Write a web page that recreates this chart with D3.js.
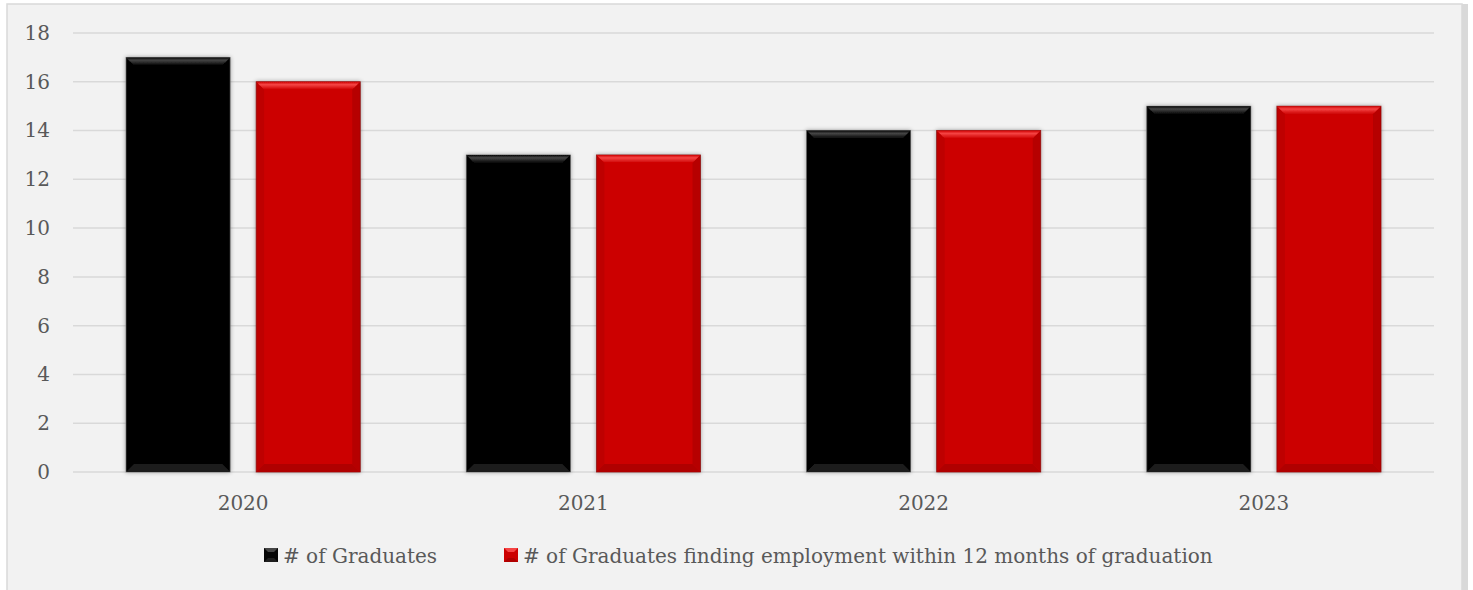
<!DOCTYPE html>
<html>
<head>
<meta charset="utf-8">
<script src="https://cdn.jsdelivr.net/npm/d3@7"></script>
<style>
  html, body { margin: 0; padding: 0; background: #ffffff; }
  svg { display: block; }
</style>
</head>
<body>
<svg id="chart" width="1473" height="590"></svg>
<script>
// ---- data ----
const categories = ["2020", "2021", "2022", "2023"];
const seriesNames = ["# of Graduates", "# of Graduates finding employment within 12 months of graduation"];
const graduates = [17, 13, 14, 15];
const employed = [16, 13, 14, 15];
const yTicks = [0, 2, 4, 6, 8, 10, 12, 14, 16, 18];

const seriesValues = [graduates, employed];
const palette = [
  { main: "#050505", top: "#454545", side: "#000000", bottom: "#1e1e1e", edge: "#7a7a7a" },
  { main: "#cc0000", top: "#f54444", side: "#a00000", bottom: "#b00000", edge: "#8a2020" }
];
const FONT = "'DejaVu Serif', 'Liberation Serif', serif";
const FS = 20;

const svg = d3.select("#chart");

// frame
svg.append("rect").attr("x", 1462).attr("y", 4).attr("width", 6).attr("height", 586).attr("fill", "#d9d9d9");
svg.append("rect").attr("x", 7).attr("y", 4).attr("width", 1455).attr("height", 590)
  .attr("fill", "#f2f2f2").attr("stroke", "#d9d9d9").attr("stroke-width", 1.5);

const plot = { left: 73, right: 1434, top: 33, bottom: 472 };

const y = d3.scaleLinear().domain([0, 18]).range([plot.bottom, plot.top]);
const x0 = d3.scaleBand().domain(categories).range([plot.left, plot.right])
  .paddingInner(0.3115).paddingOuter(0.3115 / 2);
const x1 = d3.scaleBand().domain(d3.range(seriesValues.length)).range([0, x0.bandwidth()])
  .paddingInner(0.2).paddingOuter(0);

// gridlines
svg.append("g").selectAll("line").data(yTicks).join("line")
  .attr("x1", plot.left).attr("x2", plot.right)
  .attr("y1", d => y(d)).attr("y2", d => y(d))
  .attr("stroke", "#d9d9d9").attr("stroke-width", 1.5);

// y axis labels
const yAxis = d3.axisLeft(y).tickValues(yTicks).tickSize(0).tickPadding(0);
const gy = svg.append("g").attr("transform", `translate(50,0)`).call(yAxis);
gy.select(".domain").remove();
gy.selectAll("text").attr("font-family", FONT).attr("font-size", FS).attr("fill", "#595959");

// x axis labels
const xAxis = d3.axisBottom(x0).tickSize(0).tickPadding(0);
const gx = svg.append("g").attr("transform", `translate(0,${plot.bottom})`).call(xAxis);
gx.select(".domain").remove();
gx.selectAll("text").attr("font-family", FONT).attr("font-size", FS).attr("fill", "#595959")
  .attr("dy", null).attr("y", 38);

// defs: shadow
const defs = svg.append("defs");
const f = defs.append("filter").attr("id", "shadow").attr("x", "-10%").attr("y", "-10%").attr("width", "120%").attr("height", "120%");
f.append("feGaussianBlur").attr("in", "SourceAlpha").attr("stdDeviation", 2).attr("result", "b");
f.append("feOffset").attr("in", "b").attr("dx", 0).attr("dy", 0).attr("result", "o");
f.append("feComponentTransfer").attr("in", "o").attr("result", "s")
  .append("feFuncA").attr("type", "linear").attr("slope", 0.35);
const m = f.append("feMerge");
m.append("feMergeNode").attr("in", "s");
m.append("feMergeNode").attr("in", "SourceGraphic");

palette.forEach((p, i) => {
  const g = defs.append("linearGradient").attr("id", "topg" + i).attr("x1", 0).attr("y1", 0).attr("x2", 0).attr("y2", 1);
  g.append("stop").attr("offset", 0).attr("stop-color", p.main);
  g.append("stop").attr("offset", 0.35).attr("stop-color", p.top);
  g.append("stop").attr("offset", 1).attr("stop-color", p.main);
});

// bars
const bars = [];
categories.forEach((c, ci) => {
  seriesValues.forEach((vals, si) => {
    bars.push({ cat: c, s: si, v: vals[ci] });
  });
});

const b = 8;
const gb = svg.append("g");
const barG = gb.selectAll("g.bar").data(bars).join("g").attr("class", "bar")
  .attr("filter", "url(#shadow)");

barG.each(function(d) {
  const g = d3.select(this);
  const p = palette[d.s];
  const xa = x0(d.cat) + x1(d.s), xb = xa + x1.bandwidth();
  const ya = y(d.v), yb = y(0);
  g.append("rect").attr("x", xa).attr("y", ya).attr("width", xb - xa).attr("height", yb - ya)
    .attr("fill", p.main).attr("stroke", p.edge).attr("stroke-width", 0.8);
  // top bevel
  g.append("polygon").attr("points", [[xa, ya], [xb, ya], [xb - b, ya + b], [xa + b, ya + b]].join(" "))
    .attr("fill", `url(#topg${d.s})`);
  // left / right bevel
  g.append("polygon").attr("points", [[xa, ya], [xa + b, ya + b], [xa + b, yb - b], [xa, yb]].join(" "))
    .attr("fill", p.side).attr("opacity", 0.3);
  g.append("polygon").attr("points", [[xb, ya], [xb - b, ya + b], [xb - b, yb - b], [xb, yb]].join(" "))
    .attr("fill", p.side).attr("opacity", 0.5);
  // bottom bevel
  g.append("polygon").attr("points", [[xa, yb], [xa + b, yb - b], [xb - b, yb - b], [xb, yb]].join(" "))
    .attr("fill", p.bottom);
});

// legend
const legend = svg.append("g").attr("transform", "translate(0,563)");
const legendX = [264, 504];
seriesNames.forEach((name, i) => {
  const p = palette[i];
  const lg = legend.append("g").attr("transform", `translate(${legendX[i]},0)`);
  lg.append("rect").attr("x", 0).attr("y", -15).attr("width", 14).attr("height", 14).attr("fill", p.main);
  lg.append("polygon").attr("points", "0,-15 14,-15 10,-11 4,-11").attr("fill", p.top);
  lg.append("polygon").attr("points", "0,-1 14,-1 10,-5 4,-5").attr("fill", p.bottom);
  lg.append("text").attr("x", 19).attr("y", 0).text(name)
    .attr("font-family", FONT).attr("font-size", FS).attr("fill", "#595959");
});
</script>
</body>
</html>
